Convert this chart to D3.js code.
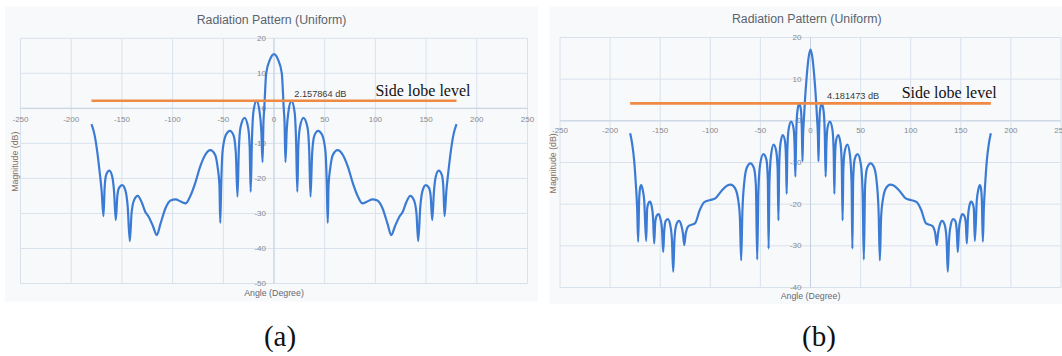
<!DOCTYPE html>
<html>
<head>
<meta charset="utf-8">
<script src="https://cdn.jsdelivr.net/npm/d3@7"></script>
<style>
  body { margin: 0; background: #fff; }
  svg { display: block; }
  text { font-family: "Liberation Sans", Arial, sans-serif; }
</style>
</head>
<body>
<svg id="chart" width="1062" height="356"></svg>
<script>
// tick values
const xTicks = [-250, -200, -150, -100, -50, 0, 50, 100, 150, 200, 250]
const yTicksA = [-50, -40, -30, -20, -10, 0, 10, 20]
const yTicksB = [-40, -30, -20, -10, 0, 10, 20]

// side lobe levels (dB) and the angle span of the marker line
const sideLobeA = 2.157864
const sideLobeB = 4.181473
const sideLobeSpan = [-180, 180]

// radiation pattern (a): [angle in degrees, magnitude in dB]
const patternA = [
  [-180, -4.5], [-177, -7.5], [-174.5, -12], [-172, -18], [-170, -23.5], [-168.2, -30.8],
  [-167, -22.5], [-165.5, -19], [-162.4, -17.8], [-159.5, -19.5], [-157.8, -23.5], [-156, -31.9],
  [-154.5, -25], [-152.8, -22.7], [-149.7, -21.9], [-146.5, -23.5], [-144.3, -28], [-142.2, -37.9],
  [-140.5, -30], [-138, -26.2], [-134.4, -25], [-130.5, -26.8], [-127, -29.5], [-123.5, -31],
  [-119.5, -33.5], [-115.6, -36.2], [-112, -33], [-107, -28.5], [-102, -26.3], [-97, -26],
  [-92, -26.6], [-87, -27.1], [-82.8, -25.2], [-77.8, -21.4], [-72.9, -16.7], [-67.9, -13.3],
  [-62.7, -11.9], [-58, -13.3], [-55.5, -17], [-53.8, -22], [-53, -32.7], [-52, -21],
  [-50.8, -12.5], [-47.5, -7.6], [-43.5, -6.4], [-39.8, -7.8], [-37.6, -13], [-36, -25.2],
  [-34.7, -12], [-33, -5.4], [-29, -2.7], [-25.5, -5.5], [-24, -11], [-23, -23.8],
  [-21.7, -8.5], [-20.3, -1], [-17.2, 2.16], [-14.2, -1], [-12.5, -6.5], [-11.3, -15.3],
  [-10.4, -4], [-9.6, 0], [-7.7, 10], [-4, 13.9], [0, 15.5],
  [4, 13.9], [7.7, 10], [9.6, 0], [10.4, -4], [11.3, -15.3], [12.5, -6.5],
  [14.2, -1], [17.2, 2.16], [20.3, -1], [21.7, -8.5], [23, -23.8], [24, -11],
  [25.5, -5.5], [29, -2.7], [33, -5.4], [34.7, -12], [36, -25.2], [37.6, -13],
  [39.8, -7.8], [43.5, -6.4], [47.5, -7.6], [50.8, -12.5], [52, -21], [53, -32.7],
  [53.8, -22], [55.5, -17], [58, -13.3], [62.7, -11.9], [67.9, -13.3], [72.9, -16.7],
  [77.8, -21.4], [82.8, -25.2], [87, -27.1], [92, -26.6], [97, -26], [102, -26.3],
  [107, -28.5], [112, -33], [115.6, -36.2], [119.5, -33.5], [123.5, -31], [127, -29.5],
  [130.5, -26.8], [134.4, -25], [138, -26.2], [140.5, -30], [142.2, -37.9], [144.3, -28],
  [146.5, -23.5], [149.7, -21.9], [152.8, -22.7], [154.5, -25], [156, -31.9], [157.8, -23.5],
  [159.5, -19.5], [162.4, -17.8], [165.5, -19], [167, -22.5], [168.2, -30.8], [170, -23.5],
  [172, -18], [174.5, -12], [177, -7.5], [180, -4.5]
]

// radiation pattern (b)
const patternB = [
  [-180, -3], [-178, -5.5], [-176, -9.5], [-174.5, -14.5], [-173, -21], [-172, -29],
  [-171, -19], [-170, -16], [-169, -15.4], [-167.5, -16.5], [-166, -19], [-164, -28.8],
  [-163, -21], [-161.8, -19.8], [-160.3, -19.4], [-158.5, -20.5], [-157.2, -23], [-156, -29.4],
  [-155, -24.5], [-153.5, -22.8], [-151.7, -22.4], [-149.8, -23.5], [-148.2, -26], [-147, -31.5],
  [-146, -26.5], [-144.5, -24], [-142.3, -23.6], [-140, -25], [-138.3, -28.5], [-137, -36.2],
  [-135.8, -28.5], [-134, -25], [-131.3, -24], [-129, -25], [-127.3, -27], [-126, -29.8],
  [-124.5, -27], [-121.5, -25.2], [-118, -24.9], [-115, -24.5], [-110.5, -21.4], [-106, -19.5],
  [-100, -19], [-95, -18.6], [-88.5, -16.7], [-83, -15.5], [-79.6, -15.3], [-75.5, -16.1],
  [-72.5, -18.5], [-70.5, -23], [-69.2, -33.5], [-68, -22], [-66, -14.5], [-63.5, -11.2],
  [-60, -10.2], [-56.5, -11.3], [-54.5, -15.5], [-53.2, -33.3], [-52, -17], [-50.3, -10.5],
  [-47, -8], [-44, -9.3], [-42.6, -14], [-41.8, -30.7], [-41, -15], [-39.5, -8.5],
  [-36.8, -5.7], [-34.2, -7.3], [-32.8, -11.5], [-32, -23.9], [-31.2, -10.5], [-30, -5.5],
  [-27.7, -3.4], [-25.5, -4.8], [-24.4, -9.5], [-23.8, -17.5], [-23.1, -7], [-21.8, -2],
  [-19.3, -0.2], [-16.9, -1.8], [-15.8, -6.5], [-15.1, -13.4], [-14.3, -3.5], [-13.1, 2.3],
  [-11.2, 4.18], [-9.5, 2.5], [-8.6, -2.5], [-8, -9.7], [-7.4, -3.5], [-6.7, 0],
  [-5.5, 5], [-4, 10], [-2, 15], [0, 17.1],
  [2, 15], [4, 10], [5.5, 5], [6.7, 0], [7.4, -3.5], [8, -9.7],
  [8.6, -2.5], [9.5, 2.5], [11.2, 4.18], [13.1, 2.3], [14.3, -3.5], [15.1, -13.4],
  [15.8, -6.5], [16.9, -1.8], [19.3, -0.2], [21.8, -2], [23.1, -7], [23.8, -17.5],
  [24.4, -9.5], [25.5, -4.8], [27.7, -3.4], [30, -5.5], [31.2, -10.5], [32, -23.9],
  [32.8, -11.5], [34.2, -7.3], [36.8, -5.7], [39.5, -8.5], [41, -15], [41.8, -30.7],
  [42.6, -14], [44, -9.3], [47, -8], [50.3, -10.5], [52, -17], [53.2, -33.3],
  [54.5, -15.5], [56.5, -11.3], [60, -10.2], [63.5, -11.2], [66, -14.5], [68, -22],
  [69.2, -33.5], [70.5, -23], [72.5, -18.5], [75.5, -16.1], [79.6, -15.3], [83, -15.5],
  [88.5, -16.7], [95, -18.6], [100, -19], [106, -19.5], [110.5, -21.4], [115, -24.5],
  [118, -24.9], [121.5, -25.2], [124.5, -27], [126, -29.8], [127.3, -27], [129, -25],
  [131.3, -24], [134, -25], [135.8, -28.5], [137, -36.2], [138.3, -28.5], [140, -25],
  [142.3, -23.6], [144.5, -24], [146, -26.5], [147, -31.5], [148.2, -26], [149.8, -23.5],
  [151.7, -22.4], [153.5, -22.8], [155, -24.5], [156, -29.4], [157.2, -23], [158.5, -20.5],
  [160.3, -19.4], [161.8, -19.8], [163, -21], [164, -28.8], [166, -19], [167.5, -16.5],
  [169, -15.4], [170, -16], [171, -19], [172, -29], [173, -21], [174.5, -14.5],
  [176, -9.5], [178, -5.5], [180, -3]
]

const panels = [
  {
    data: patternA, yTicks: yTicksA, sll: sideLobeA, caption: '(a)',
    bg: [5, 6.5, 538, 301.5], xRange: [20.5, 527.5], yRange: [283.5, 38.3],
    titleY: 23.7, xLabelDy: 11, yLabelDx: 8, angleTitleY: 296.3, magTitleX: 15, magTitleY: 161.7,
    valueAt: 20, textAt: 100, captionX: 280
  },
  {
    data: patternB, yTicks: yTicksB, sll: sideLobeB, caption: '(b)',
    bg: [549.5, 6.5, 1064, 304], xRange: [560, 1061], yRange: [287.5, 37.5],
    titleY: 23, xLabelDy: 10, yLabelDx: 9, angleTitleY: 299, magTitleX: 553, magTitleY: 163.3,
    valueAt: 16.5, textAt: 91, captionX: 819
  }
]

const svg = d3.select('#chart')
svg.append('rect').attr('width', 1062).attr('height', 356).attr('fill', '#fff')

panels.forEach(p => {
  const g = svg.append('g')
  const [bx0, by0, bx1, by1] = p.bg

  g.append('rect')
    .attr('x', bx0).attr('y', by0)
    .attr('width', bx1 - bx0).attr('height', by1 - by0)
    .attr('fill', '#f8f9fb')

  const x = d3.scaleLinear().domain([-250, 250]).range(p.xRange)
  const y = d3.scaleLinear().domain(d3.extent(p.yTicks)).range(p.yRange)

  // grid
  g.append('g').selectAll('line').data(xTicks).join('line')
    .attr('x1', d => x(d)).attr('x2', d => x(d))
    .attr('y1', p.yRange[0]).attr('y2', p.yRange[1])
    .attr('stroke', '#d9e2ec').attr('stroke-width', 1)
  g.append('g').selectAll('line').data(p.yTicks).join('line')
    .attr('x1', p.xRange[0]).attr('x2', p.xRange[1])
    .attr('y1', d => y(d)).attr('y2', d => y(d))
    .attr('stroke', '#d9e2ec').attr('stroke-width', 1)

  // axes crossing at the origin
  g.append('line')
    .attr('x1', p.xRange[0]).attr('x2', p.xRange[1])
    .attr('y1', y(0)).attr('y2', y(0))
    .attr('stroke', '#c4d2e1')
  g.append('line')
    .attr('x1', x(0)).attr('x2', x(0))
    .attr('y1', p.yRange[0]).attr('y2', p.yRange[1])
    .attr('stroke', '#c4d2e1')

  // tick labels
  g.append('g').selectAll('text').data(xTicks).join('text')
    .attr('x', d => x(d)).attr('y', y(0) + p.xLabelDy)
    .attr('text-anchor', 'middle').attr('dominant-baseline', 'central')
    .attr('font-size', 8).attr('fill', '#85898e')
    .text(d => d)
  g.append('g').selectAll('text').data(p.yTicks).join('text')
    .attr('x', x(0) - p.yLabelDx).attr('y', d => y(d))
    .attr('text-anchor', 'end').attr('dominant-baseline', 'central')
    .attr('font-size', 8).attr('fill', '#85898e')
    .text(d => d)

  // titles
  g.append('text')
    .attr('x', (bx0 + bx1) / 2).attr('y', p.titleY)
    .attr('text-anchor', 'middle').attr('font-size', 12.3).attr('fill', '#5b646d')
    .text('Radiation Pattern (Uniform)')
  g.append('text')
    .attr('x', x(0)).attr('y', p.angleTitleY)
    .attr('text-anchor', 'middle').attr('font-size', 8.8).attr('fill', '#5f6a76')
    .text('Angle (Degree)')
  g.append('text')
    .attr('transform', `translate(${p.magTitleX},${p.magTitleY}) rotate(-90)`)
    .attr('text-anchor', 'middle').attr('dominant-baseline', 'central')
    .attr('font-size', 8.8).attr('fill', '#86705f')
    .text('Magnitude (dB)')

  // pattern
  const line = d3.line()
    .x(d => x(d[0])).y(d => y(d[1]))
    .curve(d3.curveMonotoneX)
  g.append('path')
    .datum(p.data)
    .attr('d', line)
    .attr('fill', 'none').attr('stroke', '#3b7bd4')
    .attr('stroke-width', 2.2).attr('stroke-linejoin', 'round')

  // side lobe level marker
  g.append('line')
    .attr('x1', x(sideLobeSpan[0])).attr('x2', x(sideLobeSpan[1]))
    .attr('y1', y(p.sll)).attr('y2', y(p.sll))
    .attr('stroke', '#ef8a44').attr('stroke-width', 2.6)
  g.append('text')
    .attr('x', x(p.valueAt)).attr('y', y(p.sll) - 4)
    .attr('font-size', 9.2).attr('fill', '#3a3a3a')
    .text(`${p.sll} dB`)
  g.append('text')
    .attr('x', x(p.textAt)).attr('y', y(p.sll) - 5)
    .style('font-family', '"Liberation Serif", "Times New Roman", serif')
    .attr('font-size', 16).attr('fill', '#111')
    .text('Side lobe level')

  // caption
  g.append('text')
    .attr('x', p.captionX).attr('y', 346)
    .attr('text-anchor', 'middle')
    .style('font-family', '"Liberation Serif", "Times New Roman", serif')
    .attr('font-size', 29).attr('fill', '#111')
    .text(p.caption)
})
</script>
</body>
</html>
